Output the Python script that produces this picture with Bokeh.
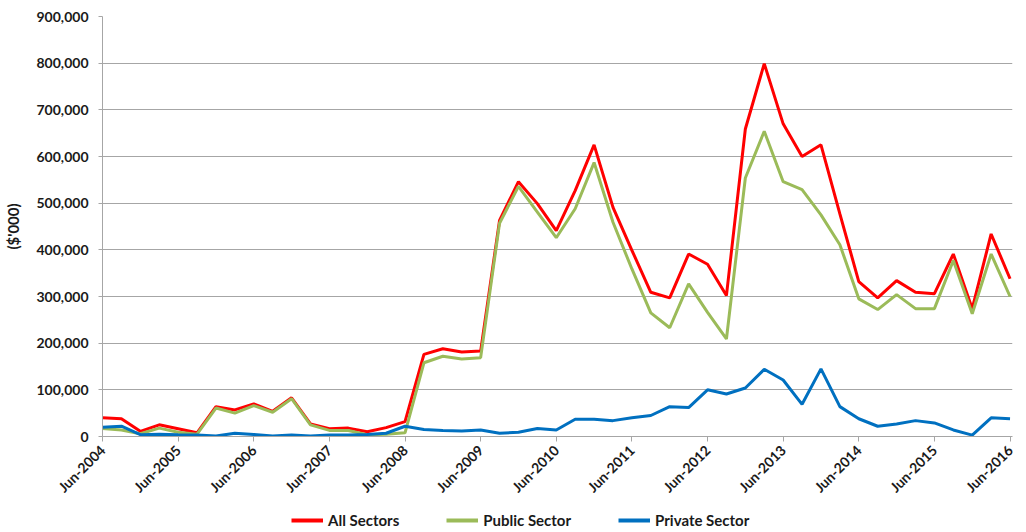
from math import pi
from bokeh.plotting import figure
from bokeh.layouts import column
from bokeh.models import Range1d, FixedTicker, NumeralTickFormatter, Legend, LegendItem
from bokeh.embed import file_html
from bokeh.resources import INLINE

# Quarterly data, Jun-2004 .. Jun-2016 (49 quarters), values in $'000
tick_labels = ["Jun-2004", "Jun-2005", "Jun-2006", "Jun-2007", "Jun-2008", "Jun-2009",
               "Jun-2010", "Jun-2011", "Jun-2012", "Jun-2013", "Jun-2014", "Jun-2015", "Jun-2016"]

all_sectors = [40, 38, 11, 25, 16.5, 8, 64, 57, 70, 54, 83, 27, 16.5, 18, 10, 19, 32, 176, 188,
               181, 183, 463, 546, 499, 441, 527, 625, 491, 399, 309, 297, 391, 369, 302, 659, 799,
               670, 600, 625, 477, 332, 297, 334, 309, 306, 391, 274, 434, 338]
public_sector = [17, 14, 6, 18, 9, 5, 61, 50, 66, 52, 81, 25, 13, 13, 4, 5, 8, 158, 172,
                 166, 169, 457, 536, 481, 426, 488, 587, 459, 359, 265, 233, 327, 266, 209, 554, 654,
                 546, 529, 475, 411, 295, 272, 304, 274, 274, 377, 263, 391, 300]
private_sector = [20, 22, 4, 5, 3.5, 3, 1, 7, 4.5, 1, 3, 1, 3, 3, 4.5, 7, 22, 15, 13,
                  12, 14, 7, 9, 17, 14, 37, 37, 34, 40, 45, 64, 62, 100, 91, 104, 144,
                  121, 69, 145, 64, 38, 22, 27, 34, 29, 14, 3, 40, 38]
series_names = ["All Sectors", "Public Sector", "Private Sector"]
series_colors = ["#FF0000", "#9BBB59", "#0070C0"]

x = list(range(len(all_sectors)))
scale = 1000

FONT = "Lato"
GRID = "#A6A6A6"
TXT = "#1a1a1a"

p = figure(width=1016, height=504, output_backend="svg", toolbar_location=None,
           x_range=Range1d(0, 48.13), y_range=Range1d(0, 900000),
           min_border_left=94, min_border_right=4, min_border_top=16, min_border_bottom=68)
p.outline_line_color = None
p.xgrid.grid_line_color = None
p.ygrid.grid_line_color = GRID
p.ygrid.grid_line_width = 1

for vals, col in zip([all_sectors, public_sector, private_sector], series_colors):
    p.line(x, [v * scale for v in vals], line_color=col, line_width=3)

# Y axis
p.yaxis.ticker = FixedTicker(ticks=[i * 100000 for i in range(10)])
p.yaxis.formatter = NumeralTickFormatter(format="0,0")
p.yaxis.axis_line_color = GRID
p.yaxis.major_tick_line_color = GRID
p.yaxis.major_tick_out = 4
p.yaxis.major_tick_in = 0
p.yaxis.minor_tick_line_color = None
p.yaxis.major_label_text_font = FONT
p.yaxis.major_label_text_font_style = "bold"
p.yaxis.major_label_text_font_size = "14px"
p.yaxis.major_label_text_color = TXT
p.yaxis.major_label_standoff = 10
p.yaxis.axis_label = "($'000)"
p.yaxis.axis_label_text_font = FONT
p.yaxis.axis_label_text_font_style = "bold"
p.yaxis.axis_label_text_font_size = "15px"
p.yaxis.axis_label_text_color = TXT
p.yaxis.axis_label_standoff = 12

# X axis
ticks = [i * 4 for i in range(len(tick_labels))]
p.xaxis.ticker = FixedTicker(ticks=ticks)
p.xaxis.major_label_overrides = {t: lab for t, lab in zip(ticks, tick_labels)}
p.xaxis.major_label_orientation = pi / 4
p.xaxis.axis_line_color = GRID
p.xaxis.major_tick_line_color = GRID
p.xaxis.major_tick_out = 5
p.xaxis.major_tick_in = 0
p.xaxis.minor_tick_line_color = None
p.xaxis.major_label_text_font = FONT
p.xaxis.major_label_text_font_style = "bold"
p.xaxis.major_label_text_font_size = "14px"
p.xaxis.major_label_text_color = TXT
p.xaxis.major_label_standoff = 6

# Legend strip below the chart
lg = figure(width=1016, height=28, output_backend="svg", toolbar_location=None,
            x_range=Range1d(0, 1), y_range=Range1d(0, 1),
            x_axis_type=None, y_axis_type=None,
            min_border_left=0, min_border_right=0, min_border_top=0, min_border_bottom=0)
lg.outline_line_color = None
lg.xgrid.grid_line_color = None
lg.ygrid.grid_line_color = None
items = []
for name, col in zip(series_names, series_colors):
    # keep the sample lines out of view; only their legend swatches are shown
    r = lg.line([5, 6], [5, 6], line_color=col, line_width=4)
    items.append(LegendItem(label=name, renderers=[r]))
legend = Legend(items=items, location=(189, 3), orientation="horizontal")
legend.label_text_font = FONT
legend.label_text_font_style = "bold"
legend.label_text_font_size = "15px"
legend.label_text_color = TXT
legend.glyph_width = 32
legend.glyph_height = 16
legend.label_height = 16
legend.label_standoff = 5
legend.spacing = 47
legend.padding = 0
legend.margin = 0
legend.border_line_color = None
legend.background_fill_alpha = 0
lg.add_layout(legend, "center")

layout = column(p, lg, spacing=0)
open("out.html", "w").write(file_html(layout, INLINE))
